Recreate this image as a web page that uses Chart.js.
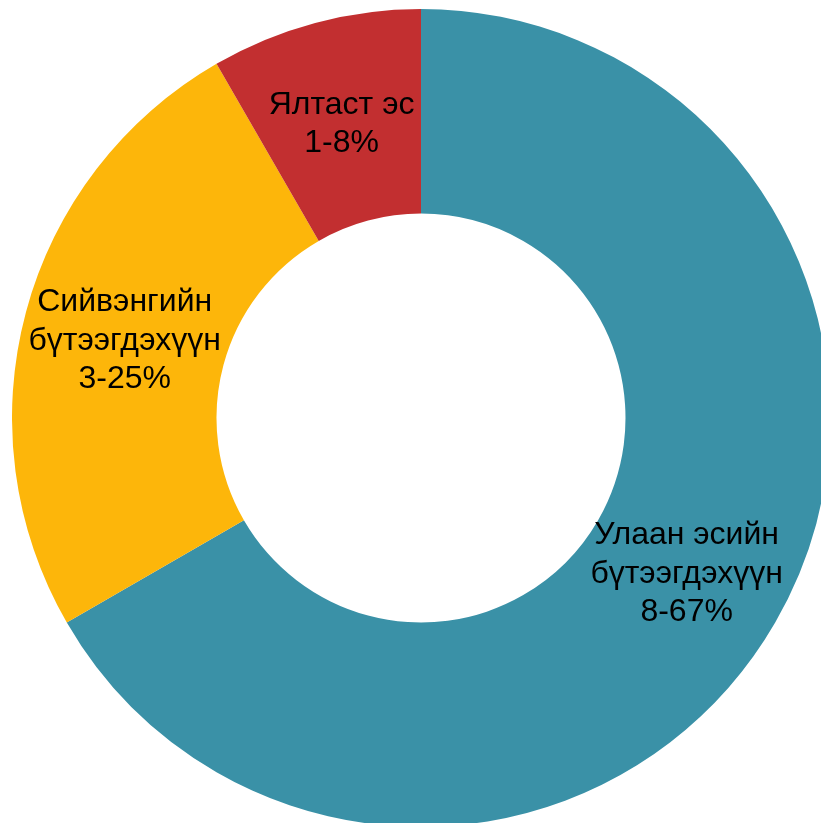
<!DOCTYPE html>
<html>
<head>
<meta charset="utf-8">
<script src="https://cdn.jsdelivr.net/npm/chart.js@4"></script>
<style>
  html, body { margin: 0; padding: 0; background: #fff; overflow: hidden; }
  #wrap { position: absolute; left: 12px; top: 9px; width: 818px; height: 818px; }
</style>
</head>
<body>
<div id="wrap"><canvas id="chart" width="818" height="818"></canvas></div>
<script>
// categories (each split into display lines), counts and colours
var categories = [["Улаан эсийн", "бүтээгдэхүүн"], ["Сийвэнгийн", "бүтээгдэхүүн"], ["Ялтаст эс"]];
var counts = [8, 3, 1];
var colors = ["#3A91A7", "#FDB60A", "#C22F30"];

var total = counts.reduce(function(a, b) { return a + b; }, 0);

// draw "name / n-pct%" in the middle of each ring segment
var sliceLabels = {
  id: 'sliceLabels',
  afterDatasetsDraw: function(chart) {
    var ctx = chart.ctx;
    var meta = chart.getDatasetMeta(0);
    ctx.save();
    ctx.font = '32px "Liberation Sans", Arial, sans-serif';
    ctx.fillStyle = '#000';
    ctx.textAlign = 'center';
    ctx.textBaseline = 'middle';
    meta.data.forEach(function(arc, i) {
      var p = arc.getProps(['startAngle', 'endAngle', 'innerRadius', 'outerRadius', 'x', 'y'], true);
      var mid = (p.startAngle + p.endAngle) / 2;
      var r = (p.innerRadius + p.outerRadius) / 2;
      var cx = p.x + Math.cos(mid) * r;
      var cy = p.y + Math.sin(mid) * r + 2.5;
      var lines = categories[i].concat([counts[i] + '-' + Math.round(counts[i] / total * 100) + '%']);
      var lh = 38.5;
      var y0 = cy - (lines.length - 1) * lh / 2;
      lines.forEach(function(t, k) {
        ctx.fillText(t, cx, y0 + k * lh);
      });
    });
    ctx.restore();
  }
};

new Chart(document.getElementById('chart').getContext('2d'), {
  type: 'doughnut',
  data: {
    labels: categories.map(function(c) { return c.join(' '); }),
    datasets: [{
      data: counts,
      backgroundColor: colors,
      borderWidth: 0
    }]
  },
  options: {
    responsive: false,
    animation: false,
    cutout: '50%',
    layout: { padding: 0 },
    plugins: {
      legend: { display: false },
      tooltip: { enabled: false }
    }
  },
  plugins: [sliceLabels]
});
</script>
</body>
</html>
